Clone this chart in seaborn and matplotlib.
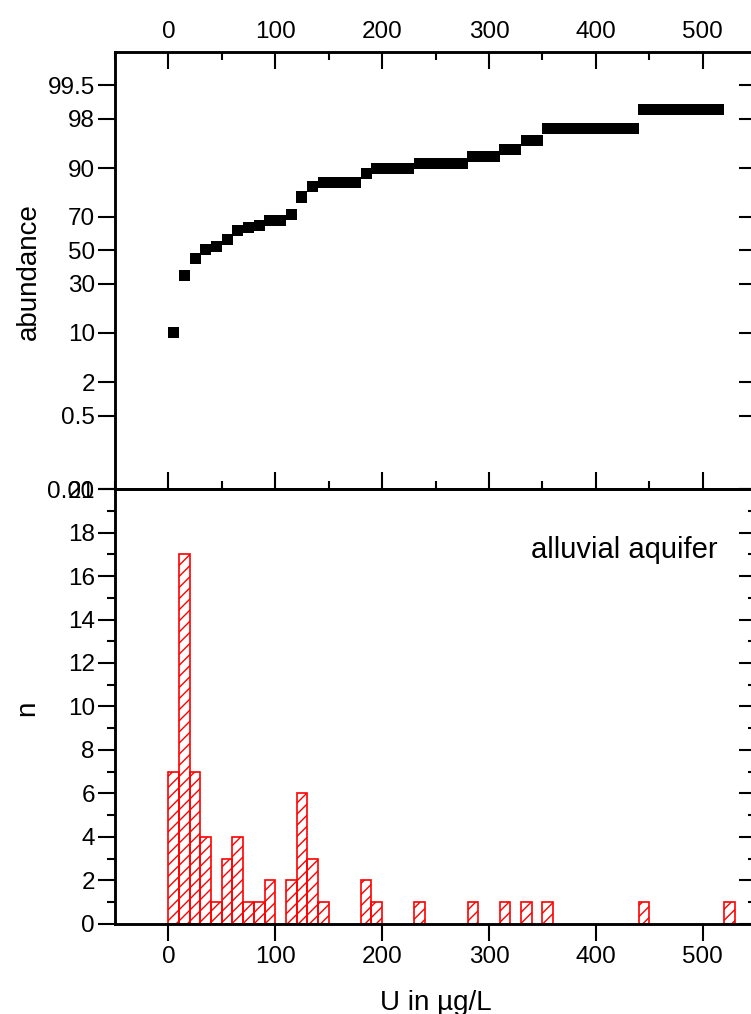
import numpy as np
import pandas as pd
import matplotlib
matplotlib.use("Agg")
import matplotlib.pyplot as plt
from matplotlib.ticker import MultipleLocator, NullLocator, FixedLocator, FixedFormatter
import seaborn as sns
from statistics import NormalDist

# ---------------- data ----------------
# histogram (bin start in µg/L, bin width 10) -> counts
bin_start = [0, 10, 20, 30, 40, 50, 60, 70, 80, 90, 110, 120, 130, 140,
             180, 190, 230, 280, 310, 330, 350, 440, 520]
counts = [7, 17, 7, 4, 1, 3, 4, 1, 1, 2, 2, 6, 3, 1,
          2, 1, 1, 1, 1, 1, 1, 1, 1]
bin_width = 10
hist_range = (0, 530)

# cumulative abundance (%) plotted at bin centres
u_cum = [5, 15, 25, 35, 45, 55, 65, 75, 85, 95,
         105, 115, 125, 135, 145, 155, 165, 175, 185, 195,
         205, 215, 225, 235, 245, 255, 265, 275, 285, 295,
         305, 315, 325, 335, 345, 355, 365, 375, 385, 395,
         405, 415, 425, 435, 445, 455, 465, 475, 485, 495,
         505, 515]
abundance = [10.1, 34.8, 44.9, 50.7, 52.2, 56.5, 62.3, 63.8, 65.2, 68.1,
             68.1, 71.0, 79.7, 84.1, 85.5, 85.5, 85.5, 85.5, 88.4, 89.9,
             89.9, 89.9, 89.9, 91.3, 91.3, 91.3, 91.3, 91.3, 92.8, 92.8,
             92.8, 94.2, 94.2, 95.7, 95.7, 97.1, 97.1, 97.1, 97.1, 97.1,
             97.1, 97.1, 97.1, 97.1, 98.6, 98.6, 98.6, 98.6, 98.6, 98.6,
             98.6, 98.6]

prob_ticks = [0.01, 0.5, 2, 10, 30, 50, 70, 90, 98, 99.5]
prob_labels = ["0.01", "0.5", "2", "10", "30", "50", "70", "90", "98", "99.5"]

# ---------------- style ----------------
sns.set_theme(style="white")
plt.rcParams.update({
    "font.family": ["Liberation Sans", "DejaVu Sans"],
    "axes.edgecolor": "black",
    "axes.linewidth": 1.8,
    "xtick.color": "black",
    "ytick.color": "black",
    "text.color": "black",
    "axes.labelcolor": "black",
    "hatch.color": "red",
    "hatch.linewidth": 1.0,
    "axes.grid": False,
})

_nd = NormalDist()


def _fwd(p):
    p = np.asarray(p, dtype=float)
    res = np.full(p.size, np.nan)
    for i, v in enumerate(p.ravel()):
        if np.isfinite(v):
            q = min(max(v / 100.0, 1e-12), 1 - 1e-12)
            res[i] = _nd.inv_cdf(q)
    return res.reshape(p.shape)


def _inv(z):
    z = np.asarray(z, dtype=float)
    res = np.full(z.size, np.nan)
    for i, v in enumerate(z.ravel()):
        if np.isfinite(v):
            res[i] = _nd.cdf(v) * 100.0
    return res.reshape(z.shape)


TICK_FS = 17.5
LABEL_FS = 20
NOTE_FS = 21

fig = plt.figure(figsize=(7.51, 10.14), dpi=100)
L, W = 0.1530, 0.8539
ax1 = fig.add_axes([L, 0.51775, W, 0.43097])
ax2 = fig.add_axes([L, 0.08876, W, 0.42899])

# ---------------- top: cumulative probability ----------------
df_cum = pd.DataFrame({"U": u_cum, "abundance": abundance})
sns.scatterplot(data=df_cum, x="U", y="abundance", marker="s", s=64,
                color="black", edgecolor="none", linewidth=0, ax=ax1,
                legend=False, zorder=3)
ax1.set_yscale("function", functions=(_fwd, _inv))
ax1.set_ylim(0.01, 99.9)
ax1.set_xlim(-50, 550)
ax1.set_xlabel("")
ax1.set_ylabel("")
ax1.yaxis.set_major_locator(FixedLocator(prob_ticks))
ax1.yaxis.set_major_formatter(FixedFormatter(prob_labels))
ax1.yaxis.set_minor_locator(NullLocator())
ax1.xaxis.set_major_locator(MultipleLocator(100))
ax1.xaxis.set_minor_locator(MultipleLocator(50))
ax1.tick_params(axis="x", which="both", top=True, bottom=True,
                labeltop=True, labelbottom=False, direction="in", width=1.5)
ax1.tick_params(axis="x", which="major", length=12, labelsize=TICK_FS, pad=6.5)
ax1.tick_params(axis="x", which="minor", length=6)
ax1.tick_params(axis="y", which="major", left=True, right=False,
                direction="out", length=12, width=1.5,
                labelsize=TICK_FS, pad=2.5)

ax1r = ax1.twinx()
ax1r.set_yscale("function", functions=(_fwd, _inv))
ax1r.set_ylim(0.01, 99.9)
ax1r.yaxis.set_major_locator(FixedLocator(prob_ticks))
ax1r.yaxis.set_minor_locator(NullLocator())
ax1r.tick_params(axis="y", which="major", direction="in", length=12,
                 width=1.5, labelright=False)

# ---------------- bottom: histogram ----------------
centres = [b + bin_width / 2 for b in bin_start]
df_hist = pd.DataFrame({"U": centres, "n": counts})
sns.histplot(data=df_hist, x="U", weights="n", binwidth=bin_width,
             binrange=hist_range, ax=ax2, stat="count", element="bars",
             fill=True)
for p in list(ax2.patches):
    if p.get_height() <= 0:
        p.remove()
        continue
    p.set_facecolor("none")
    p.set_edgecolor("red")
    p.set_alpha(1)
    p.set_linewidth(1.2)
    p.set_hatch("///")

ax2.set_xlim(-50, 550)
ax2.set_ylim(0, 20)
ax2.set_xlabel("")
ax2.set_ylabel("")
ax2.xaxis.set_major_locator(MultipleLocator(100))
ax2.xaxis.set_minor_locator(NullLocator())
ax2.yaxis.set_major_locator(MultipleLocator(2))
ax2.yaxis.set_minor_locator(MultipleLocator(1))
ax2.tick_params(axis="x", which="major", bottom=True, top=False,
                direction="out", length=12, width=1.5, labelsize=TICK_FS)
ax2.tick_params(axis="y", which="both", left=True, right=False,
                direction="out", width=1.5)
ax2.tick_params(axis="y", which="major", length=12, labelsize=TICK_FS, pad=2.5)
ax2.tick_params(axis="y", which="minor", length=6)

ax2r = ax2.twinx()
ax2r.set_ylim(0, 20)
ax2r.yaxis.set_major_locator(MultipleLocator(2))
ax2r.yaxis.set_minor_locator(MultipleLocator(1))
ax2r.tick_params(axis="y", which="both", direction="in", width=1.5,
                 labelright=False)
ax2r.tick_params(axis="y", which="major", length=12)
ax2r.tick_params(axis="y", which="minor", length=6)

ax2.text(0.9404, 0.860, "alluvial aquifer", transform=ax2.transAxes,
         ha="right", va="center", fontsize=NOTE_FS)

# ---------------- axis labels ----------------
fig.text(29 / 751, 1 - 272 / 1014, "abundance", rotation=90,
         ha="center", va="center", fontsize=LABEL_FS)
fig.text(27 / 751, 1 - 708 / 1014, "n", rotation=90,
         ha="center", va="center", fontsize=LABEL_FS)
fig.text(435.5 / 751, 1 - 1010 / 1014, "U in µg/L",
         ha="center", va="baseline", fontsize=LABEL_FS)

fig.savefig("out.png", dpi=100)
